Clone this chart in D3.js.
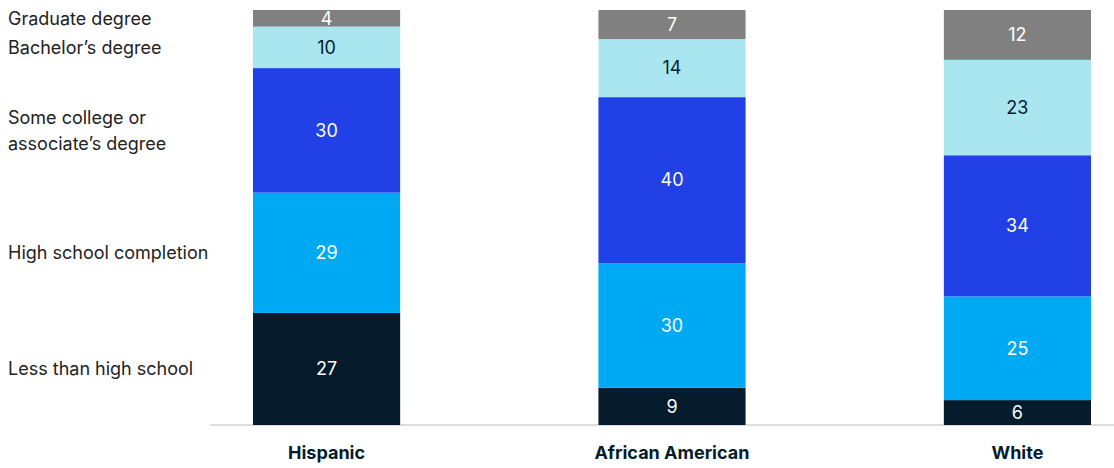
<!DOCTYPE html>
<html><head><meta charset="utf-8">
<script src="https://cdn.jsdelivr.net/npm/d3@7"></script>
<style>
html,body{margin:0;padding:0;background:#fff;}
svg{display:block;font-family:Inter,"Liberation Sans",Arial,sans-serif;}
</style></head>
<body><svg id="c" width="1114" height="468"></svg>
<script>
const categories = ["Hispanic", "African American", "White"];
const levels = ["Less than high school", "High school completion", "Some college or associate’s degree", "Bachelor’s degree", "Graduate degree"];
const levelLines = [["Less than high school"], ["High school completion"], ["Some college or", "associate’s degree"], ["Bachelor’s degree"], ["Graduate degree"]];
const lessThanHS = [27, 9, 6];
const hsCompletion = [29, 30, 25];
const someCollege = [30, 40, 34];
const bachelors = [10, 14, 23];
const graduate = [4, 7, 12];
const colors = ["#061c2c", "#00a9f4", "#2140e6", "#aae6f0", "#808080"];
const textColors = ["#fff", "#fff", "#fff", "#051c2c", "#fff"];

const series = [lessThanHS, hsCompletion, someCollege, bachelors, graduate];
const rows = categories.map((c, i) => {
  const o = {cat: c};
  levels.forEach((l, j) => o[l] = series[j][i]);
  return o;
});
const stacked = d3.stack().keys(levels)(rows);

const svg = d3.select("#c");
const x = d3.scaleBand().domain(categories).range([253, 1091]).paddingInner(0.574).paddingOuter(0);
const y = d3.scaleLinear().domain([0, 100]).range([425, 10]);

svg.append("line").attr("x1", 210).attr("x2", 1114).attr("y1", 425).attr("y2", 425)
  .attr("stroke", "#dcdcdc").attr("stroke-width", 2);

const g = svg.append("g");
stacked.forEach((s, j) => {
  g.selectAll(null).data(s).enter().append("rect")
    .attr("x", d => x(d.data.cat)).attr("width", x.bandwidth())
    .attr("y", d => y(d[1])).attr("height", d => y(d[0]) - y(d[1]))
    .attr("fill", colors[j]);
  g.selectAll(null).data(s).enter().append("text")
    .attr("x", d => x(d.data.cat) + x.bandwidth() / 2)
    .attr("y", d => (y(d[0]) + y(d[1])) / 2)
    .attr("dy", "0.35em").attr("text-anchor", "middle")
    .attr("font-size", 18).attr("fill", textColors[j])
    .text(d => d[1] - d[0]);
});

stacked.forEach((s, j) => {
  const cy = (y(s[0][0]) + y(s[0][1])) / 2;
  const lines = levelLines[j];
  const lh = 26;
  lines.forEach((t, k) => {
    svg.append("text").attr("x", 8)
      .attr("y", cy + (k - (lines.length - 1) / 2) * lh)
      .attr("dy", "0.35em").attr("font-size", 18).attr("fill", "#222")
      .text(t);
  });
});

svg.selectAll(null).data(categories).enter().append("text")
  .attr("x", d => x(d) + x.bandwidth() / 2).attr("y", 453)
  .attr("dy", "0.35em").attr("text-anchor", "middle")
  .attr("font-size", 18).attr("font-weight", "bold").attr("fill", "#051c2c")
  .text(d => d);
</script></body></html>
